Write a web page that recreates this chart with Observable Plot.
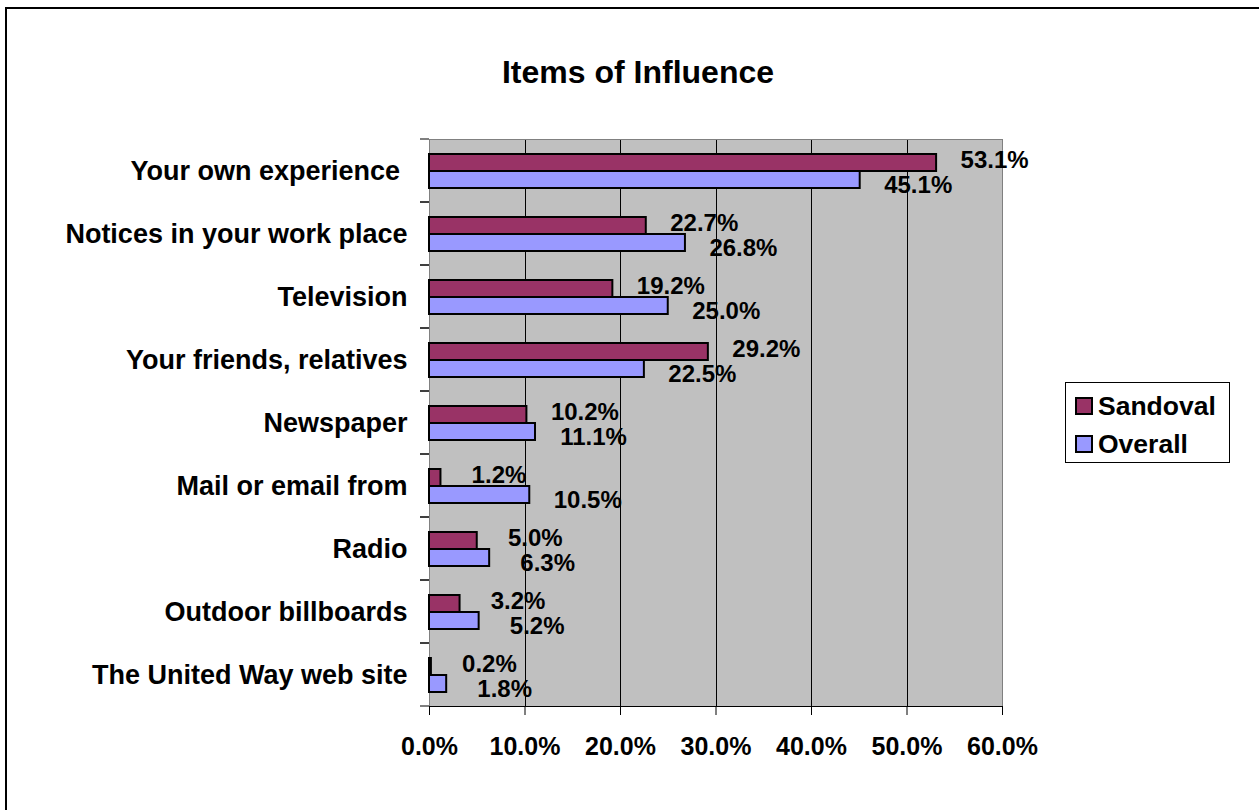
<!DOCTYPE html>
<html>
<head>
<meta charset="utf-8">
<script src="https://cdn.jsdelivr.net/npm/d3@7"></script>
<script src="https://cdn.jsdelivr.net/npm/@observablehq/plot@0.6"></script>
<style>
  body { margin: 0; background: #fff; font-family: "Liberation Sans", Arial, sans-serif; color: #000; }
  #wrap { position: relative; width: 1259px; height: 810px; overflow: hidden; background: #fff; }
  #border { position: absolute; left: 5px; top: 7px; width: 1320px; height: 900px; border: 2px solid #000; box-sizing: border-box; }
  #title { position: absolute; left: 0; top: 56px; width: 1276px; text-align: center; font-weight: bold; font-size: 32px; line-height: 32px; }
  #chart { position: absolute; left: 0; top: 100px; }
  #chart svg text { white-space: pre; }
  #legend { position: absolute; left: 1065px; top: 382px; width: 165px; height: 81px; border: 1px solid #000; box-sizing: border-box; background: #fff; }
  .lrow { position: absolute; left: 9px; height: 26px; display: flex; align-items: center; font-weight: bold; font-size: 26.5px; }
  .sw { width: 14px; height: 14px; border: 2px solid #000; margin-right: 5px; }
</style>
</head>
<body>
<div id="wrap">
  <div id="border"></div>
  <div id="title">Items of Influence</div>
  <div id="chart"></div>
  <div id="legend"></div>
</div>
<script>
const categories = [
  "Your own experience ",
  "Notices in your work place",
  "Television",
  "Your friends, relatives",
  "Newspaper",
  "Mail or email from",
  "Radio",
  "Outdoor billboards",
  "The United Way web site"
];
const series = ["Sandoval", "Overall"];
const sandoval = [53.1, 22.7, 19.2, 29.2, 10.2, 1.2, 5.0, 3.2, 0.2];
const overall  = [45.1, 26.8, 25.0, 22.5, 11.1, 10.5, 6.3, 5.2, 1.8];
const colors = ["#993366", "#9999FF"];
const xTicks = [0, 10, 20, 30, 40, 50, 60];

const data = categories.flatMap((c, i) => [
  {category: c, series: series[0], value: sandoval[i]},
  {category: c, series: series[1], value: overall[i]}
]);
const fmt = v => v.toFixed(1) + "%";

const boundaryTicks = (index, scales, values, dims) => {
  const g = d3.create("svg:g");
  const x0 = dims.marginLeft;
  for (const y of [dims.marginTop, dims.height - dims.marginBottom]) {
    g.append("line").attr("x1", x0 - 9).attr("x2", x0).attr("y1", y).attr("y2", y)
      .attr("stroke", "#000").attr("stroke-width", 1);
  }
  return g.node();
};

const chart = Plot.plot({
  width: 1259,
  height: 700,
  marginLeft: 429,
  marginRight: 257,
  marginTop: 36,
  marginBottom: 91,
  style: {fontFamily: "'Liberation Sans', Arial, sans-serif", color: "#000", background: "transparent", overflow: "visible"},
  x: {domain: [xTicks[0], xTicks[xTicks.length - 1]]},
  fy: {domain: categories, padding: 0},
  y: {domain: series, paddingInner: 0, paddingOuter: 0.8, axis: null},
  color: {domain: series, range: colors},
  marks: [
    Plot.frame({fill: "#c0c0c0", stroke: null, shapeRendering: "crispEdges"}),
    Plot.ruleX(xTicks.slice(1, -1), {stroke: "#000", strokeWidth: 1, shapeRendering: "crispEdges"}),
    Plot.ruleX([xTicks[0], xTicks[xTicks.length - 1]], {stroke: "#808080", strokeWidth: 1, shapeRendering: "crispEdges"}),
    Plot.frame({anchor: "top", stroke: "#808080", fy: [categories[0]]}),
    Plot.frame({anchor: "bottom", stroke: "#000", fy: [categories[categories.length - 1]]}),
    Plot.barX(data, {fy: "category", y: "series", x: "value", fill: "series", stroke: "#000", strokeWidth: 2}),
    Plot.text(data.filter(d => d.series === series[0]), {
      fy: "category", y: "series", x: "value", text: d => fmt(d.value),
      dx: 58, dy: -3, fontSize: 24, fontWeight: "bold", fill: "#000"
    }),
    Plot.text(data.filter(d => d.series === series[1]), {
      fy: "category", y: "series", x: "value", text: d => fmt(d.value),
      dx: 58, dy: 5, fontSize: 24, fontWeight: "bold", fill: "#000"
    }),
    Plot.axisFy({anchor: "left", tickSize: 0, tickPadding: 22, fontSize: 27, fontWeight: "bold", label: null}),
    Plot.axisX({ticks: xTicks, tickSize: 9, tickPadding: 22, tickFormat: fmt, fontSize: 25, fontWeight: "bold", label: null}),
    boundaryTicks
  ]
});
document.getElementById("chart").appendChild(chart);

const legend = document.getElementById("legend");
const rowTops = [10, 48];
series.forEach((s, i) => {
  const row = document.createElement("div");
  row.className = "lrow";
  row.style.top = rowTops[i] + "px";
  const sw = document.createElement("div");
  sw.className = "sw";
  sw.style.background = colors[i];
  const t = document.createElement("span");
  t.textContent = s;
  row.appendChild(sw);
  row.appendChild(t);
  legend.appendChild(row);
});
</script>
</body>
</html>
